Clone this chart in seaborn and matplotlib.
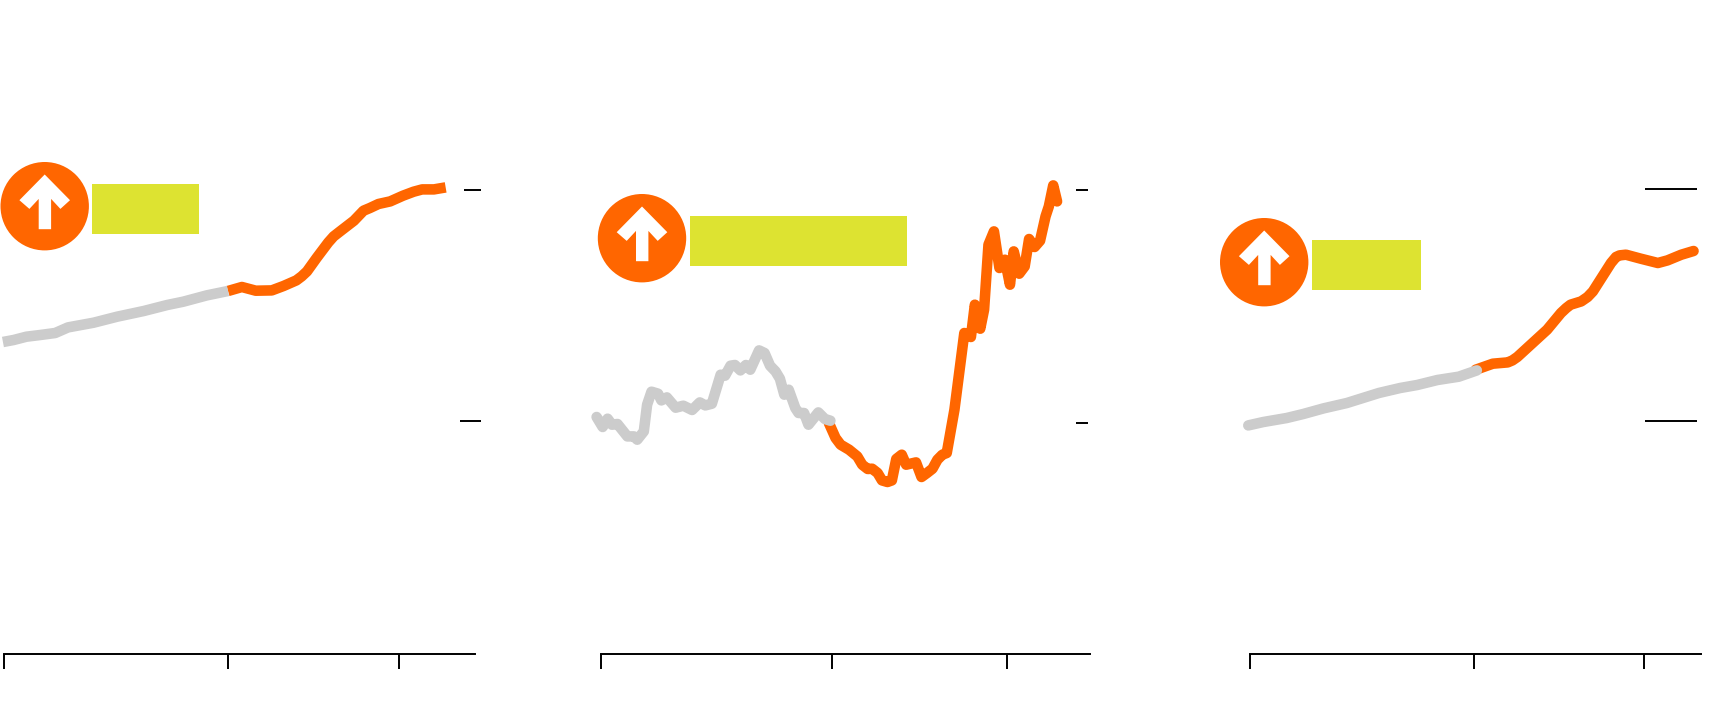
import numpy as np
import pandas as pd
import matplotlib
matplotlib.use('Agg')
import matplotlib.pyplot as plt
import seaborn as sns
from matplotlib.patches import Circle, Polygon, Rectangle

# datos (sin etiquetas visibles, escala relativa a la base del eje)
years1_gray = [1979.9, 1980.9, 1982.1, 1983.4, 1984.8, 1986.0, 1988.4, 1990.6, 1993.1, 1995.3, 1996.8, 1999.0, 2001.0]
vals1_gray = [311.7, 313.7, 317, 318.7, 320.7, 326.3, 331, 337, 342.7, 348.7, 352, 358.3, 362.7]
years1_orange = [2001.0, 2002.3, 2003.6, 2005.1, 2006.2, 2007.4, 2007.9, 2008.4, 2009.3, 2010.4, 2010.9, 2011.5, 2012.8,
                 2013.7, 2014.3, 2015.1, 2016.2, 2017.4, 2018.4, 2019.2, 2020.3, 2021.4]
vals1_orange = [362.7, 366.7, 363, 363.3, 367.7, 373.3, 377.3, 382.3, 395.7, 411.3, 417.3, 422.3, 433,
                443, 445.7, 449.7, 452.3, 458, 462, 464.3, 464.3, 466.3]

years2_gray = [1979.6, 1980.15, 1980.6, 1981.0, 1981.5, 1982.4, 1983.0, 1983.3, 1983.9, 1984.2, 1984.6, 1985.2,
               1985.5, 1986.0, 1986.8, 1987.5, 1988.3, 1989.0, 1989.5, 1990.1, 1990.9, 1991.3, 1991.8, 1992.2,
               1992.7, 1993.2, 1993.6, 1994.4, 1994.9, 1995.4, 1995.9, 1996.3, 1996.7, 1997.1, 1997.7, 1998.0,
               1998.5, 1998.9, 1999.8, 2000.4, 2000.9]
vals2_gray = [236.7, 226.7, 235, 229, 229.7, 217.3, 217.3, 214, 222.3, 249, 262, 260,
              253.3, 256.3, 246, 248, 243.7, 251.3, 248.3, 250, 279, 278, 288, 288.7,
              283.3, 288.7, 284, 303.3, 300.7, 288, 282.3, 275, 259, 264, 245.7, 240.7,
              240.7, 229, 241.3, 234.7, 233]
years2_orange = [2000.76, 2001.37, 2001.83, 2002.6, 2003.35, 2003.8, 2004.3, 2004.7, 2005.2, 2005.6, 2006.1, 2006.5,
                 2006.9, 2007.4, 2007.8, 2008.7, 2009.2, 2009.7, 2010.2, 2010.65, 2011.1, 2011.5, 2012.2, 2013.1,
                 2013.7, 2014.06, 2014.55, 2014.9, 2015.3, 2015.8, 2016.3, 2016.8, 2017.26, 2017.6, 2018.1, 2018.6,
                 2019.0, 2019.5, 2020.0, 2020.5, 2020.8, 2021.2, 2021.55]
vals2_orange = [230.7, 215.7, 209, 204, 197.3, 189, 184.7, 185, 180.7, 173.3, 171.7, 173.3,
                194.7, 199, 189, 191.3, 176.7, 180.7, 185, 194, 199, 200.7, 244, 320.7,
                316.7, 349, 325, 344, 409, 422.3, 385.7, 394, 369, 402.3, 380, 387.3,
                414.7, 406.7, 413, 437.3, 447.3, 468.3, 452.3]

years3_gray = [1979.84, 1981.26, 1983.45, 1985.0, 1986.9, 1989.1, 1992.1, 1994.1, 1995.7, 1997.6, 1999.6, 2001.3]
vals3_gray = [228.3, 231.7, 235.7, 239.7, 245.3, 250.7, 260.7, 265.7, 268.7, 273.7, 277, 283.3]
years3_orange = [2001.2, 2002.8, 2004.2, 2004.64, 2005.1, 2007.9, 2009.2, 2009.7, 2010.1, 2011.1, 2011.7, 2012.2,
                 2013.9, 2014.37, 2014.7, 2015.3, 2016.7, 2018.3, 2019.2, 2020.5, 2021.65]
vals3_orange = [284, 290, 291.3, 293.3, 296.7, 324, 340.7, 345.7, 349, 352.3, 356.7, 362.3,
                390.7, 396.7, 398.3, 399, 395, 390.7, 393.3, 399, 402.7]

x_ticks = [1980, 2001, 2017]
y_ticks1 = [232.4, 463.3]
y_ticks2 = [230.7, 463.3]
y_ticks3 = [232.3, 464.3]

GRAY = '#cccccc'
ORANGE = '#ff6600'
YELLOW = '#dde331'
W, H = 1720, 718
BASE = 653.7  # y del eje en pixeles

sns.set_style('white')
fig = plt.figure(figsize=(W / 100, H / 100), dpi=100, facecolor='white')


def panel(left, right, xmax, gray, orange, yticks, tick_spans, cap):
    ax = fig.add_axes([left / W, (H - BASE) / H, (right - left) / W, BASE / H], facecolor='none')
    df_o = pd.DataFrame({'year': orange[0], 'value': orange[1]})
    df_g = pd.DataFrame({'year': gray[0], 'value': gray[1]})
    sty = dict(linewidth=7.6, errorbar=None, clip_on=False, solid_capstyle=cap, solid_joinstyle='round')
    sns.lineplot(data=df_o, x='year', y='value', color=ORANGE, ax=ax, zorder=2, **sty)
    sns.lineplot(data=df_g, x='year', y='value', color=GRAY, ax=ax, zorder=3, **sty)
    for yt, (x0, x1) in zip(yticks, tick_spans):
        ax.hlines(yt, x0, x1, color='black', linewidth=1.4, clip_on=False)
    ax.set_xlim(1980, xmax)
    ax.set_ylim(0, BASE)
    ax.set_xticks(x_ticks)
    ax.set_yticks([])
    ax.set_xlabel('')
    ax.set_ylabel('')
    ax.tick_params(axis='x', bottom=True, length=10.8, width=1.4, color='black', labelbottom=False)
    sns.despine(ax=ax, left=True)
    ax.spines['bottom'].set_color('black')
    ax.spines['bottom'].set_linewidth(1.4)
    return ax


panel(4, 475, 2024.15, (years1_gray, vals1_gray), (years1_orange, vals1_orange), y_ticks1,
      [(2022.75, 2024.7), (2023.1, 2024.7)], 'butt')
panel(601, 1090, 2024.55, (years2_gray, vals2_gray), (years2_orange, vals2_orange), y_ticks2,
      [(2023.26, 2024.35), (2023.26, 2024.35)], 'round')
panel(1250, 1701, 2022.35, (years3_gray, vals3_gray), (years3_orange, vals3_orange), y_ticks3,
      [(2017.09, 2021.97), (2017.09, 2021.97)], 'round')

# iconos y cajas
over = fig.add_axes([0, 0, 1, 1], facecolor='none')
over.set_xlim(0, W)
over.set_ylim(H, 0)
over.axis('off')

arrow = np.array([(0, -31.7), (25.3, -6), (15.7, 2.7), (6.4, -7.3), (6.4, 23), (-6, 23), (-6, -7.3),
                  (-15.3, 2.7), (-25.3, -6)])
for cx, cy in [(44.7, 206.2), (642, 238.2), (1264.2, 262.2)]:
    over.add_patch(Circle((cx, cy), 44.2, color=ORANGE, lw=0))
    over.add_patch(Polygon(arrow + [cx, cy], closed=True, color='white', lw=0))

for x0, x1, y0, y1 in [(92.3, 199.3, 183.7, 234), (690, 907.3, 215.7, 266), (1312, 1421.3, 239.7, 289.7)]:
    over.add_patch(Rectangle((x0, y0), x1 - x0, y1 - y0, color=YELLOW, lw=0))

plt.savefig('out.png', dpi=100, facecolor='white')
